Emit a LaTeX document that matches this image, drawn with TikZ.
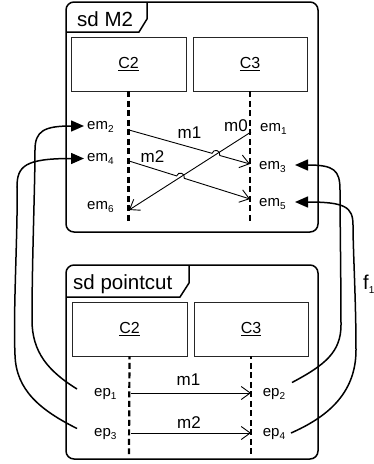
\documentclass[tikz,border=0pt]{standalone}
\usepackage{fontspec}
\setmainfont{Liberation Sans}
\usetikzlibrary{arrows.meta}
\newcommand\lsub[1]{\raisebox{-0.4ex}{\fontsize{10}{10}\selectfont #1}}
\begin{document}
\begin{tikzpicture}[x=1pt,y=-1pt,
  frame/.style={line width=1.5pt, rounded corners=8pt},
  tabline/.style={line width=1.5pt},
  title/.style={font=\fontsize{20.5}{22}\selectfont, anchor=base west, inner sep=0pt},
  objbox/.style={draw=black!85, line width=0.8pt, minimum width=114pt, minimum height=54pt, inner sep=0pt, font=\fontsize{16}{18}\selectfont},
  lifeline/.style={line width=2.2pt, dash pattern=on 6pt off 3.5pt},
  evlabel/.style={font=\fontsize{15}{17}\selectfont, anchor=base west, inner sep=0pt},
  msglabel/.style={font=\fontsize{17}{19}\selectfont, anchor=base, inner sep=0pt},
  msg/.style={line width=0.9pt, -{Straight Barb[length=9pt,width=13pt,line width=0.9pt]}},
  fcurve/.style={line width=1.5pt, -{Triangle[length=13pt,width=11pt]}},
]
\useasboundingbox (0,0) rectangle (374,464);

% ---------- frame sd M2 ----------
\draw[frame] (66,2) rectangle (318,232);
\draw[tabline] (66,32) -- (139,32) -- (147,19) -- (147,2);
\node[title] (t1) at (77,26) {sd M2};

\node[objbox, minimum width=115pt] (c2a) at (128.5,64) {\underline{C2}};
\node[objbox] (c3a) at (250,64) {\underline{C3}};
\coordinate (l2a) at (128.5,224);
\coordinate (l3a) at (250,224);
\draw[lifeline] (c2a.south) -- (l2a);
\draw[lifeline] (c3a.south) -- (l3a);

\node[evlabel] (em2) at (87,129.3) {em\lsub{2}};
\node[evlabel] (em4) at (87,161.7) {em\lsub{4}};
\node[evlabel] (em6) at (87,209.3) {em\lsub{6}};
\node[evlabel] (em1) at (260,131) {em\lsub{1}};
\node[evlabel] (em3) at (259,169.3) {em\lsub{3}};
\node[evlabel] (em5) at (259,206.7) {em\lsub{5}};

% messages with hops
\coordinate (m1s) at (129,130);
\coordinate (m1e) at (250,164);
\coordinate (m2s) at (129,161);
\coordinate (m2e) at (250,199);
\coordinate (m0s) at (251,132);
\coordinate (m0e) at (129,210);
\draw[msg] (m0s) -- (m0e);
\draw[msg] (m1s) -- (212.05,153.32) .. controls (213.49,148.19) and (221.19,150.35) .. (219.75,155.48) -- (m1e);
\draw[msg] (m2s) -- (176.58,175.9) .. controls (178.18,170.81) and (185.82,173.21) .. (184.22,178.3) -- (m2e);
\node[msglabel] (lm1a) at (189.5,138.3) {m1};
\node[msglabel] (lm2a) at (152.5,162) {m2};
\node[msglabel, anchor=base east] (lm0) at (248,131) {m0};

% ---------- frame sd pointcut ----------
\draw[frame] (66,265) rectangle (318,459);
\draw[tabline] (66,297) -- (180,297) -- (189,283) -- (189,265);
\node[title] (t2) at (73,289.3) {sd pointcut};

\node[objbox, minimum width=115pt] (c2b) at (129.5,329) {\underline{C2}};
\node[objbox] (c3b) at (251,329) {\underline{C3}};
\coordinate (l2b) at (129,454);
\coordinate (l3b) at (251,454);
\draw[lifeline, dash phase=3pt] (c2b.south) -- (l2b);
\draw[lifeline, dash phase=3pt] (c3b.south) -- (l3b);

\node[evlabel] (ep1) at (94,396.7) {ep\lsub{1}};
\node[evlabel] (ep3) at (94,436) {ep\lsub{3}};
\node[evlabel] (ep2) at (262.7,396.7) {ep\lsub{2}};
\node[evlabel] (ep4) at (262.7,436) {ep\lsub{4}};

\coordinate (n1s) at (131,393);
\coordinate (n1e) at (251,393);
\coordinate (n2s) at (131,433);
\coordinate (n2e) at (251,433);
\draw[msg] (n1s) -- (n1e);
\draw[msg] (n2s) -- (n2e);
\node[msglabel] (lm1b) at (188.5,385) {m1};
\node[msglabel] (lm2b) at (189,428) {m2};

% ---------- f1 curves ----------
\coordinate (cA) at (77,389);
\coordinate (tA) at (84,126);
\coordinate (cB) at (77,428.5);
\coordinate (tB) at (84,158.5);
\coordinate (cC) at (292,382.5);
\coordinate (tC) at (295,165);
\coordinate (cD) at (291,433);
\coordinate (tD) at (295,202);
\draw[fcurve] (cA) .. controls (48,371) and (32,352) .. (32,320) .. controls (32,260) and (35,185) .. (35,150) .. controls (35,131) and (44,126) .. (tA);
\draw[fcurve] (cB) .. controls (40,410) and (16,390) .. (15,355) .. controls (13,310) and (18,230) .. (17,187) .. controls (17,166) and (25,158.5) .. (tB);
\draw[fcurve] (cC) .. controls (325,365) and (341,352) .. (341,325) .. controls (341,280) and (340,220) .. (340,190) .. controls (340,170) and (334,165) .. (tC);
\draw[fcurve] (cD) .. controls (325,418) and (356,395) .. (356,350) .. controls (356,300) and (353,250) .. (353,225) .. controls (353,207) and (345,202) .. (tD);

\node[font=\fontsize{20}{22}\selectfont, anchor=base west, inner sep=0pt] (f1) at (363,289) {f\lsub{1}};
\end{tikzpicture}
\end{document}
